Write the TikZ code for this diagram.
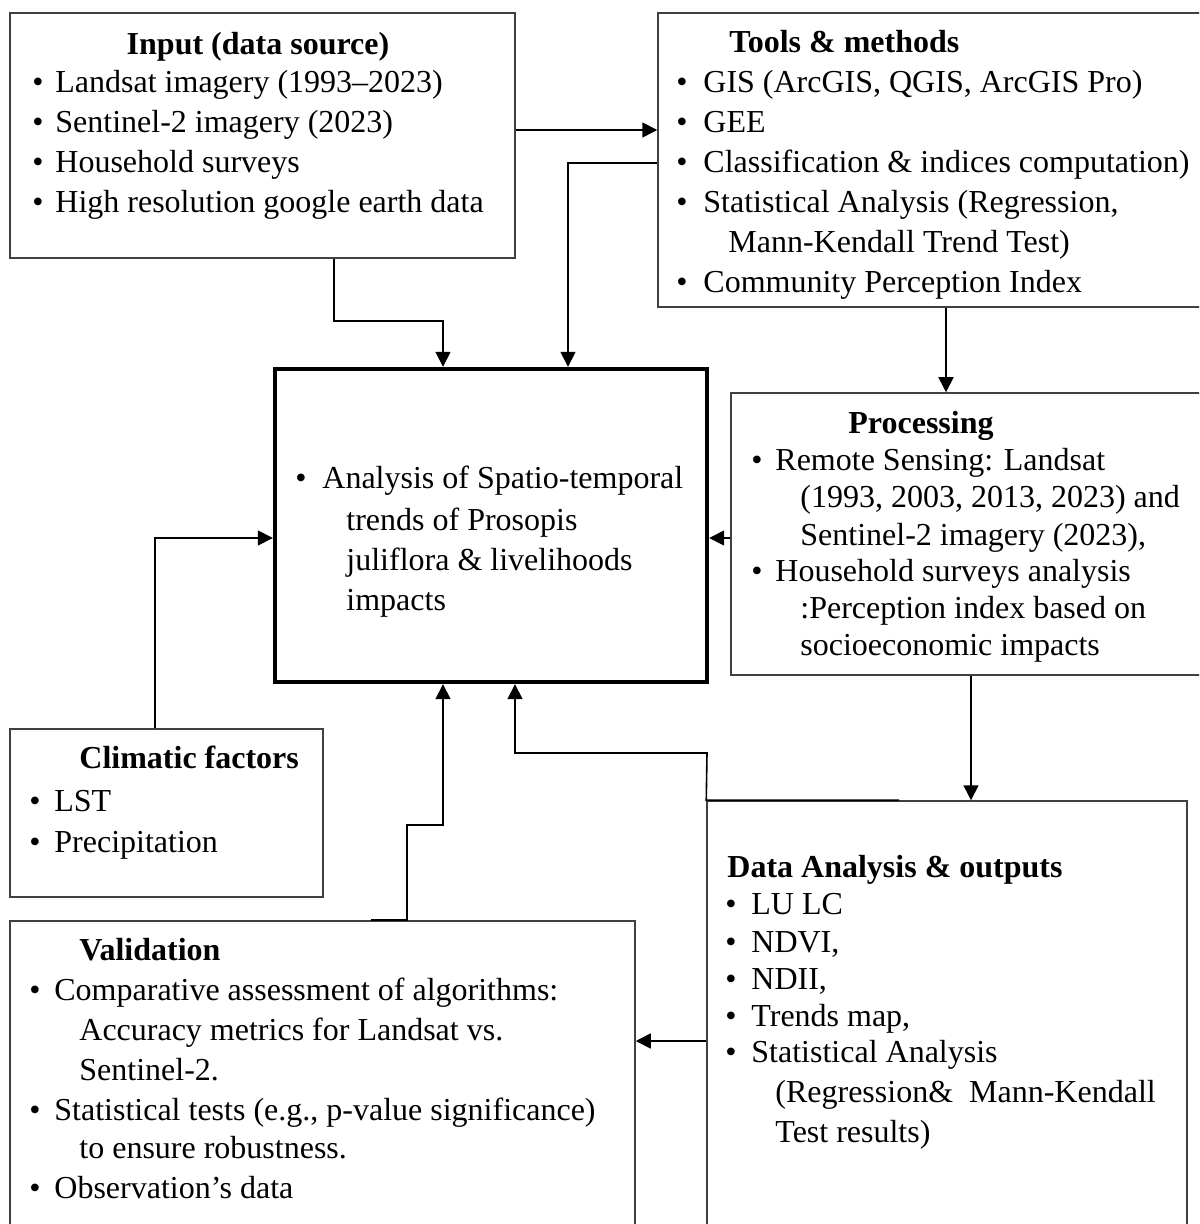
\documentclass[tikz,border=0pt]{standalone}
\usepackage{fontspec}
\setmainfont{Liberation Serif}
\usetikzlibrary{arrows.meta,fit}
\newcommand{\blt}[5]{\node[bul] (#1b) at (#2,#4) {\textbullet};\node[txt] (#1) at (#3,#4) {#5};}
\newcommand{\cnt}[4]{\node[txt] (#1) at (#2,#3) {#4};}
\begin{document}
\begin{tikzpicture}[x=0.5pt,y=-0.5pt,
  box/.style={draw=black!75, line width=0.75pt, inner sep=0pt},
  mainbox/.style={draw=black, line width=2.2pt, inner sep=0pt},
  txt/.style={inner sep=0pt, anchor=base west, font=\fontsize{16}{20}\selectfont},
  ttl/.style={txt, font=\fontsize{16}{20}\selectfont\bfseries},
  bul/.style={inner sep=0pt, anchor=base, font=\fontsize{16}{20}\selectfont},
  arr/.style={line width=0.8pt, -{Triangle[length=7.5pt,width=7.5pt]}}]
\fill[white] (0,0) rectangle (1199,1224);
\path[use as bounding box, clip] (0,0) rectangle (1199,1224);

% boxes
\node[box, fit={(10,13)(515,258)}] (input) {};
\node[box, fit={(658,13)(1215,307)}] (tools) {};
\node[mainbox, fit={(275,369)(707,682)}] (main) {};
\node[box, fit={(731,393)(1215,675)}] (proc) {};
\node[box, fit={(10,729)(323,897)}] (clim) {};
\node[box, fit={(10,921)(635,1240)}] (valid) {};
\node[box, fit={(707,801)(1187,1240)}] (data) {};

% Input
\node[ttl, anchor=base] (inT) at (258,55) {Input (data source)};
\blt{in1}{38}{55}{93}{Landsat imagery (1993--2023)}
\blt{in2}{38}{55}{133}{Sentinel-2 imagery (2023)}
\blt{in3}{38}{55}{173}{Household surveys}
\blt{in4}{38}{55}{213}{High resolution google earth data}

% Tools
\node[ttl] (toT) at (729,53) {Tools \& methods};
\blt{to1}{682}{703}{93}{GIS (ArcGIS, QGIS, ArcGIS Pro)}
\blt{to2}{682}{703}{133}{GEE}
\blt{to3}{682}{703}{173}{Classification \& indices computation)}
\blt{to4}{682}{703}{213}{Statistical Analysis (Regression,}
\cnt{to5}{728}{253}{Mann-Kendall Trend Test)}
\blt{to6}{682}{703}{293}{Community Perception Index}

% Main
\blt{ma1}{301}{322}{488}{Analysis of Spatio-temporal}
\cnt{ma2}{346}{530}{trends of Prosopis}
\cnt{ma3}{346}{570}{juliflora \& livelihoods}
\cnt{ma4}{346}{610}{impacts}

% Processing
\node[ttl] (prT) at (848,433) {Processing};
\blt{pr1}{757}{775}{470}{Remote Sensing: Landsat}
\cnt{pr2}{800}{507}{(1993, 2003, 2013, 2023) and}
\cnt{pr3}{800}{545}{Sentinel-2 imagery (2023),}
\blt{pr4}{757}{775}{581}{Household surveys analysis}
\cnt{pr5}{800}{618}{:Perception index based on}
\cnt{pr6}{800}{655}{socioeconomic impacts}

% Climatic
\node[ttl] (clT) at (79,768) {Climatic factors};
\blt{cl1}{35}{54}{811}{LST}
\blt{cl2}{35}{54}{852}{Precipitation}

% Validation
\node[ttl] (vaT) at (79,960) {Validation};
\blt{va1}{35}{54}{1000}{Comparative assessment of algorithms:}
\cnt{va2}{79}{1040}{Accuracy metrics for Landsat vs.}
\cnt{va3}{79}{1080}{Sentinel-2.}
\blt{va4}{35}{54}{1120}{Statistical tests (e.g., p-value significance)}
\cnt{va5}{79}{1158}{to ensure robustness.}
\blt{va6}{35}{54}{1198}{Observation’s data}

% Data analysis
\node[ttl] (daT) at (727,877) {Data Analysis \& outputs};
\blt{da1}{731}{751}{914}{LU LC}
\blt{da2}{731}{751}{952}{NDVI,}
\blt{da3}{731}{751}{989}{NDII,}
\blt{da4}{731}{751}{1026}{Trends map,}
\blt{da5}{731}{751}{1062}{Statistical Analysis}
\cnt{da6}{775}{1102}{(Regression\&~~Mann-Kendall}
\cnt{da7}{775}{1142}{Test results)}

% connectors
\draw[arr] (input.east |- 0,130) -- (tools.west |- 0,130);
\draw[arr] (tools.west |- 0,163) -| (568,0 |- main.north);
\draw[arr] (334,0 |- input.south) -- (334,321) -| (443,0 |- main.north);
\draw[arr] (946,0 |- tools.south) -- (946,0 |- proc.north);
\draw[arr] (155,0 |- clim.north) |- (main.west |- 0,538);
\draw[arr] (proc.west |- 0,538) -- (main.east |- 0,538);
\draw[arr] (971,0 |- proc.south) -- (971,0 |- data.north);
\draw[arr] (371,0 |- valid.north) -- (407,0 |- valid.north) -- (407,825) -- (443,825) -- (443,0 |- main.south);
\draw[arr] (899,0 |- data.north) -- (data.north west) -- (707,753) -- (515,753) -- (515,0 |- main.south);
\draw[arr] (data.west |- 0,1041) -- (valid.east |- 0,1041);
\end{tikzpicture}
\end{document}
